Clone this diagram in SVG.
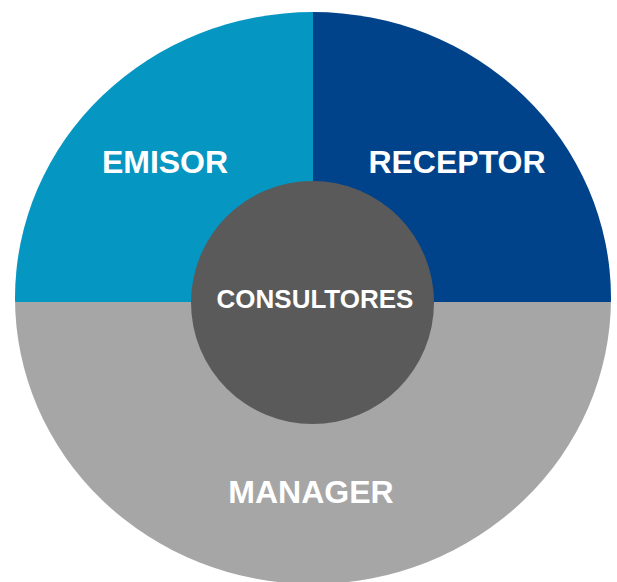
<svg xmlns="http://www.w3.org/2000/svg" width="617" height="582" viewBox="0 0 617 582">
<style>
.lbl{font-family:"Liberation Sans",Arial,sans-serif;font-weight:bold;fill:#fff;text-anchor:middle}
.big{font-size:32px}
.mid{font-size:26px}
</style>
<defs>
<clipPath id="c"><ellipse cx="313" cy="298" rx="298" ry="286"/></clipPath>
</defs>
<rect width="617" height="582" fill="#fff"/>
<g clip-path="url(#c)">
<g id="emisor"><rect x="0" y="0" width="313" height="302" fill="#0596C2"/></g>
<g id="receptor"><rect x="313" y="0" width="304" height="302" fill="#00438A"/></g>
<g id="manager"><rect x="0" y="302" width="617" height="290" fill="#A6A6A6"/></g>
</g>
<g id="connectors"></g>
<g id="consultores"><circle cx="312.5" cy="302.5" r="121.5" fill="#5A5A5A"/>
<text class="lbl mid" x="315" y="308">CONSULTORES</text></g>
<text class="lbl big" x="165" y="173">EMISOR</text>
<text class="lbl big" x="457" y="173">RECEPTOR</text>
<text class="lbl big" x="311" y="503">MANAGER</text>
</svg>
